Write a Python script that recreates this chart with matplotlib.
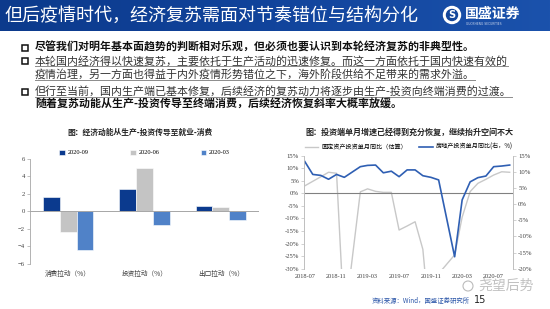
import numpy as np
import pandas as pd
import matplotlib
matplotlib.use('Agg')
import matplotlib.pyplot as plt
import matplotlib.dates as mdates
from matplotlib.colors import LinearSegmentedColormap
from matplotlib.patches import Rectangle, Circle
from matplotlib.ticker import FuncFormatter

plt.rcParams['font.family'] = ['Noto Sans CJK SC', 'DejaVu Sans']
SERIF = ['Liberation Serif', 'Noto Sans CJK SC']

# ===================== DATI =====================
HEADER = '但后疫情时代，经济复苏需面对节奏错位与结构分化'
BULLETS = [
    '尽管我们对明年基本面趋势的判断相对乐观，但必须也要认识到本轮经济复苏的非典型性。',
    '本轮国内经济得以快速复苏，主要依托于生产活动的迅速修复。而这一方面依托于国内快速有效的',
    '疫情治理，另一方面也得益于内外疫情形势错位之下，海外阶段供给不足带来的需求外溢。',
    '但行至当前，国内生产端已基本修复，后续经济的复苏动力将逐步由生产-投资向终端消费的过渡。',
    '随着复苏动能从生产-投资传导至终端消费，后续经济恢复斜率大概率放缓。',
]

BAR_TITLE = '图：经济动能从生产-投资传导至就业-消费'
BAR_CATS = ['消费拉动（%）', '投资拉动（%）', '出口拉动（%）']
BAR_SERIES = ['2020-09', '2020-06', '2020-03']
BAR_2020_09 = [1.7, 2.6, 0.65]
BAR_2020_06 = [-2.35, 5.0, 0.5]
BAR_2020_03 = [-4.4, -1.5, -1.0]
BAR_COLORS = ['#0b3a8e', '#c4c4c4', '#5082c8']

LINE_TITLE = '图：投资端单月增速已经得到充分恢复，继续抬升空间不大'
MONTHS = ['2018-07', '2018-08', '2018-09', '2018-10', '2018-11', '2018-12',
          '2019-02', '2019-03', '2019-04', '2019-05', '2019-06', '2019-07',
          '2019-08', '2019-09', '2019-10', '2019-11', '2019-12',
          '2020-02', '2020-03', '2020-04', '2020-05', '2020-06', '2020-07',
          '2020-08', '2020-09']
FAI = [3.0, 4.8, 6.6, 8.4, 8.0, -52.0,
       0.6, 1.8, 0.8, 0.4, 0.4, -14.6,
       -13.0, -11.3, -22.3, -57.0, -32.0,
       -24.5, -9.5, 0.7, 4.0, 5.6, 7.3,
       8.6, 8.4]
REAL_ESTATE = [13.2, 9.2, 8.9, 7.7, 9.2, 8.3,
               11.6, 12.0, 12.1, 9.7, 10.2, 8.5,
               10.6, 10.6, 8.8, 8.3, 7.5,
               -16.3, 1.3, 6.9, 8.2, 8.7, 11.6,
               11.8, 12.1]
LINE_TICKS = ['2018-07', '2018-11', '2019-03', '2019-07', '2019-11', '2020-03', '2020-07']
FAI_LABEL = '固定资产投资单月同比（估算）'
RE_LABEL = '房地产投资单月同比(右，%)'
# ================================================


def main():
    W, H = 550, 309
    fig = plt.figure(figsize=(5.5, 3.09), dpi=100)
    bg = fig.add_axes([0, 0, 1, 1])
    bg.set_xlim(0, W)
    bg.set_ylim(H, 0)
    bg.axis('off')

    # header band
    cmap = LinearSegmentedColormap.from_list('hdr', ['#0c3a8c', '#11449c', '#1b52ac'])
    bg.imshow(np.linspace(0, 1, 256).reshape(1, -1), cmap=cmap, aspect='auto',
              extent=[0, W, 31, 0], zorder=0)
    bg.set_xlim(0, W)
    bg.set_ylim(H, 0)
    bg.text(5, 16, HEADER, color='white', fontsize=13, va='center', ha='left')
    bg.add_patch(Circle((452, 15), 8.5, color='white', zorder=2))
    bg.add_patch(Circle((452, 15), 5.5, color='#14469a', zorder=3))
    bg.text(452, 15.5, 'S', color='white', fontsize=7, fontweight='bold',
            ha='center', va='center', zorder=4, family='DejaVu Sans')
    bg.text(465, 13.5, '国盛证券', color='white', fontsize=10, fontweight='bold',
            va='center', ha='left')
    bg.text(466, 24, 'GUOSHENG SECURITIES', color='#c8d4ea', fontsize=2.2,
            va='center', ha='left', family='DejaVu Sans')

    # bullets
    ys = [47.5, 61, 74.5, 91.5, 103.5]
    bold = [True, False, False, False, True]
    under = [False, True, True, True, False]
    boxes = [True, True, False, True, False]
    texts = []
    for s, y, b, bx in zip(BULLETS, ys, bold, boxes):
        t = bg.text(35, y, s, fontsize=7.9, va='center', ha='left',
                    color='#111111' if b else '#333333',
                    fontweight='bold' if b else 'normal')
        texts.append(t)
        if bx:
            bg.add_patch(Rectangle((22, y - 3), 6, 6, fill=False,
                                   edgecolor='#111111', lw=1.1))

    # left chart: bars
    ax1 = fig.add_axes([30 / W, 1 - 264 / H, 229 / W, 105 / H])
    x = np.arange(len(BAR_CATS))
    w = 0.22
    for i, (vals, lab, c) in enumerate(zip([BAR_2020_09, BAR_2020_06, BAR_2020_03],
                                           BAR_SERIES, BAR_COLORS)):
        ax1.bar(x + (i - 1) * w, vals, w, color=c, label=lab,
                edgecolor='white', linewidth=0.4)
    ax1.axhline(0, color='#a6a6a6', lw=0.7)
    ax1.set_ylim(-6, 6)
    ax1.set_yticks(range(-6, 7, 2))
    ax1.set_xlim(-0.5, 2.5)
    ax1.set_xticks(x)
    ax1.set_xticklabels(BAR_CATS, fontsize=4.8, color='#404040')
    for s in ['top', 'right', 'bottom']:
        ax1.spines[s].set_visible(False)
    ax1.spines['left'].set_color('#a6a6a6')
    ax1.spines['left'].set_linewidth(0.6)
    ax1.tick_params(axis='x', length=0, pad=4)
    ax1.tick_params(axis='y', length=2, width=0.5, color='#a6a6a6',
                    labelsize=4.8, labelcolor='#404040', pad=1.5)
    for lbl in ax1.get_yticklabels():
        lbl.set_family(SERIF)
    ax1.legend(loc='lower center', bbox_to_anchor=(0.5, 1.01), ncol=3,
               frameon=False, prop={'family': SERIF, 'size': 4.6},
               handlelength=0.9, handleheight=0.9, handletextpad=0.4,
               columnspacing=6.5, borderaxespad=0)
    bg.text(140, 132, BAR_TITLE, fontsize=5.6, fontweight='bold',
            ha='center', va='center', color='#222222')

    # right chart: lines
    ax2 = fig.add_axes([304 / W, 1 - 268.7 / H, 209.3 / W, 113 / H])
    ax2r = ax2.twinx()
    dates = pd.to_datetime(MONTHS)
    l1, = ax2.plot(dates, FAI, color='#c8c8c8', lw=1.0, label=FAI_LABEL)
    l2, = ax2r.plot(dates, REAL_ESTATE, color='#2f5fb3', lw=1.2, label=RE_LABEL)
    ax2.axhline(0, color='#808080', lw=0.8)
    ax2.set_ylim(-30, 15)
    ax2r.set_ylim(-20, 15)
    ax2.set_yticks(range(-30, 16, 5))
    ax2r.set_yticks(range(-20, 16, 5))
    pct = FuncFormatter(lambda v, p: f'{v:.0f}%')
    ax2.yaxis.set_major_formatter(pct)
    ax2r.yaxis.set_major_formatter(pct)
    ax2.set_xlim(pd.Timestamp('2018-06-28'), pd.Timestamp('2020-09-15'))
    ax2.set_xticks(pd.to_datetime(LINE_TICKS))
    ax2.xaxis.set_major_formatter(mdates.DateFormatter('%Y-%m'))
    for a in (ax2, ax2r):
        a.spines['top'].set_visible(False)
        a.spines['bottom'].set_visible(False)
        a.spines['left'].set_color('#bfbfbf')
        a.spines['right'].set_color('#bfbfbf')
        a.spines['left'].set_linewidth(0.6)
        a.spines['right'].set_linewidth(0.6)
        a.tick_params(axis='y', length=2, width=0.5, color='#bfbfbf',
                      labelsize=4.8, labelcolor='#404040', pad=1.5)
        for lbl in a.get_yticklabels():
            lbl.set_family(SERIF)
    ax2.tick_params(axis='x', length=0, labelsize=4.6, labelcolor='#404040', pad=4)
    for lbl in ax2.get_xticklabels():
        lbl.set_family(SERIF)
    ax2r.legend([l1, l2], [FAI_LABEL, RE_LABEL], loc='lower center',
                bbox_to_anchor=(0.5, 1.02), ncol=2, frameon=False,
                prop={'size': 4.4}, handlelength=2.2, handletextpad=0.5,
                columnspacing=2.0, borderaxespad=0)
    bg.text(409, 132, LINE_TITLE, fontsize=5.8, fontweight='bold',
            ha='center', va='center', color='#222222')

    # footer, watermark
    bg.text(372, 301, '资料来源：Wind，国盛证券研究所', fontsize=4.6, style='italic',
            color='#2a55a8', va='center', ha='left')
    bg.text(474, 300, '15', fontsize=7, color='#222222', va='center', ha='left',
            family='DejaVu Sans')
    bg.text(478, 286, '尧望后势', fontsize=10, color='#bbbbbb', va='center',
            ha='left', alpha=0.9)
    bg.add_patch(Circle((468, 286), 5, fill=False, edgecolor='#bbbbbb', lw=0.8))

    # underlines under the real text extents
    fig.canvas.draw()
    r = fig.canvas.get_renderer()
    inv = bg.transData.inverted()
    for t, u, y in zip(texts, under, ys):
        if not u:
            continue
        bb = t.get_window_extent(r)
        x0 = inv.transform((bb.x0, bb.y0))[0]
        x1 = inv.transform((bb.x1, bb.y1))[0]
        bg.plot([x0, x1], [y + 5, y + 5], color='#8c8c8c', lw=0.7)

    fig.savefig('out.png', dpi=100)


if __name__ == '__main__':
    main()
